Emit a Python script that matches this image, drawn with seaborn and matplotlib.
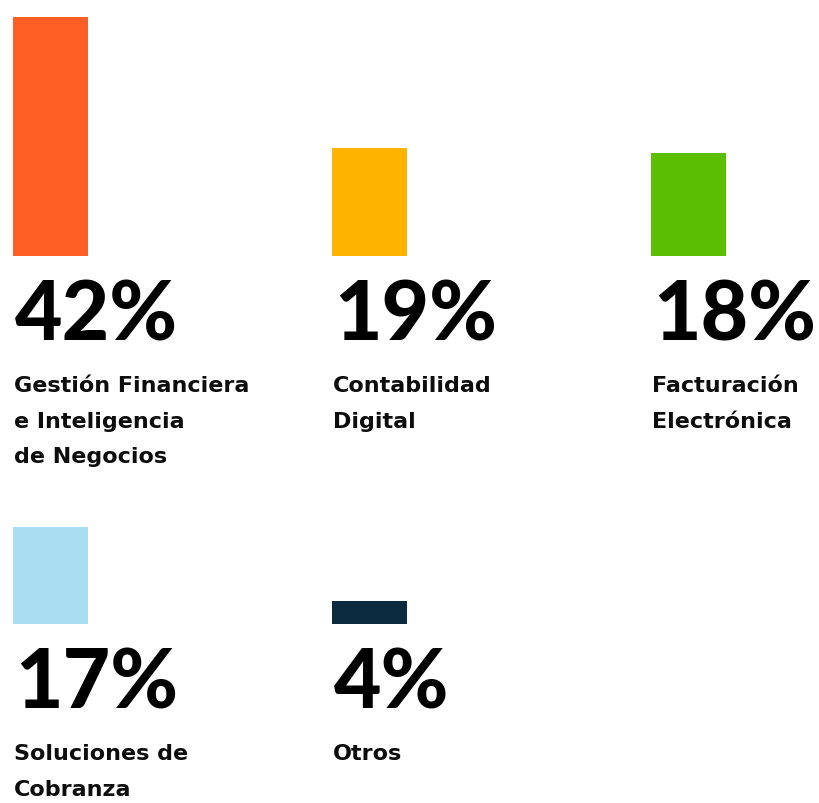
import matplotlib
matplotlib.use("Agg")
import matplotlib.pyplot as plt
import seaborn as sns
import pandas as pd

# ---------------------------------------------------------------------------
# Data
# ---------------------------------------------------------------------------
row1_labels = ["Gestión Financiera\ne Inteligencia\nde Negocios", "Contabilidad\nDigital", "Facturación\nElectrónica"]
row1_values = [42, 19, 18]
row1_colors = ["#FF5F25", "#FFB400", "#5BBF00"]

row2_labels = ["Soluciones de\nCobranza", "Otros"]
row2_values = [17, 4]
row2_colors = ["#A9DDF2", "#0B2A40"]

sns.set_style("white")
plt.rcParams["font.family"] = ["Lato", "DejaVu Sans"]

W, H, DPI = 819, 804, 100
PX_PER_UNIT = 5.7      # vertical pixels per percentage point
SLOT = 319.0           # horizontal pixels between columns
FIRST_CENTER = 50.5    # pixel x of the first bar center
BAR_W = 75 / SLOT


def draw_row(fig, baseline_px, labels, values, colors):
    """One row of bars, each with its big percentage and a caption."""
    ax_h = 256
    ax = fig.add_axes([0, (H - baseline_px) / H, 1, ax_h / H])
    df = pd.DataFrame({"cat": labels, "value": values})
    sns.barplot(data=df, x="cat", y="value", hue="cat", palette=colors,
                width=BAR_W, legend=False, ax=ax, saturation=1, linewidth=0)
    ax.set_xlim(-FIRST_CENTER / SLOT, (W - FIRST_CENTER) / SLOT)
    ax.set_ylim(0, ax_h / PX_PER_UNIT)
    ax.axis("off")

    for bar, lab, val in zip(ax.patches, labels, values):
        x0 = bar.get_x()
        ax.annotate(f"{val}%", xy=(x0, 0), xytext=(1.5, -60), textcoords="offset points",
                    fontsize=59, fontweight="black", color="black",
                    ha="left", va="baseline", annotation_clip=False)
        ax.annotate(lab, xy=(x0, 0), xytext=(0.5, -86), textcoords="offset points",
                    fontsize=16, fontweight="bold", color="#0d0d0d",
                    family="DejaVu Sans",
                    ha="left", va="top", linespacing=1.95, annotation_clip=False)
    return ax


fig = plt.figure(figsize=(W / DPI, H / DPI), dpi=DPI)
draw_row(fig, 257, row1_labels, row1_values, row1_colors)
draw_row(fig, 625, row2_labels, row2_values, row2_colors)

fig.savefig("out.png", dpi=DPI, facecolor="white")
